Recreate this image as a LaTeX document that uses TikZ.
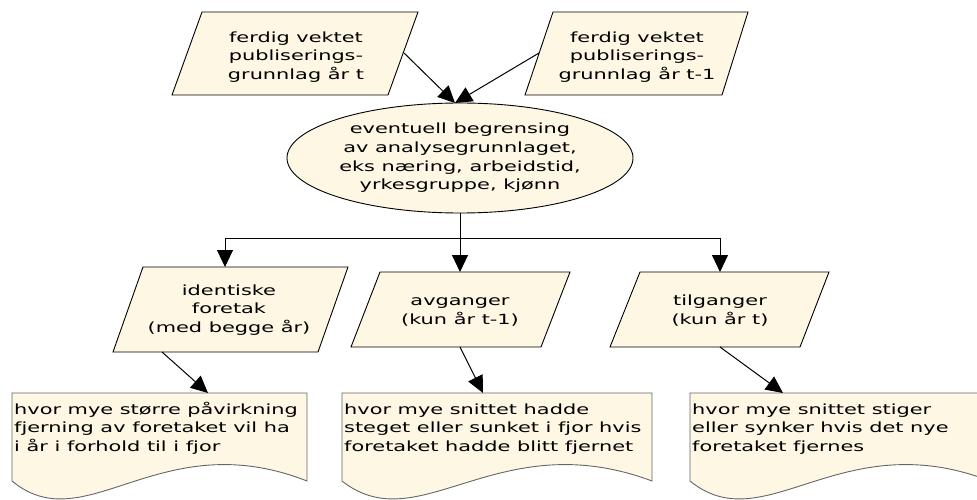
\documentclass[tikz,border=0pt]{standalone}
\usepackage{fontspec}
\setmainfont{DejaVu Sans}[FakeStretch=1.49]
\usetikzlibrary{arrows.meta,shapes.geometric}
\definecolor{paper}{RGB}{253,247,228}
\begin{document}
\begin{tikzpicture}[x=1pt,y=-1pt,
  flowbox/.style={draw=black,line width=0.9pt,fill=paper},
  docbox/.style={draw=black!60,line width=0.9pt,fill=paper},
  lbl/.style={inner sep=0pt,align=center,font=\fontsize{14}{18.7}\selectfont},
  doclbl/.style={inner sep=0pt,align=left,anchor=north west,font=\fontsize{14}{18.7}\selectfont},
  flow/.style={line width=1pt,-{Triangle[length=17pt,width=16pt]}},
  link/.style={line width=1pt}]
\useasboundingbox (0,0) rectangle (977,500);
\clip (0,0) rectangle (977,500);

% input data sets
\draw[flowbox] (202,12) -- (418,12) -- (388,95) -- (172,95) -- cycle;
\node[lbl] (pub1) at (296,57) {\strut ferdig vektet\\publiserings-\\grunnlag år t\strut};
\draw[flowbox] (553,12) -- (748,12) -- (722,95) -- (525,95) -- cycle;
\node[lbl] (pub2) at (637,57) {\strut ferdig vektet\\publiserings-\\grunnlag år t-1\strut};

% optional restriction of the analysis base
\node[flowbox,ellipse,lbl,minimum width=346pt,minimum height=110pt] (filter) at (460,158)
  {\strut eventuell begrensing\\av analysegrunnlaget,\\eks næring, arbeidstid,\\yrkesgruppe, kjønn\strut};

% the three groups of enterprises
\draw[flowbox] (143,267) -- (348,267) -- (318,352) -- (113,352) -- cycle;
\node[lbl] (same) at (229,310) {\strut identiske\\foretak\\(med begge år)\strut};
\draw[flowbox] (380,272) -- (570,272) -- (541,347) -- (351,347) -- cycle;
\node[lbl] (gone) at (460,311.6) {\strut avganger\\(kun år t-1)\strut};
\draw[flowbox] (640,272) -- (829,272) -- (800,347) -- (610,347) -- cycle;
\node[lbl] (new) at (720,311.6) {\strut tilganger\\(kun år t)\strut};

% result documents with wavy lower edge
\draw[docbox] (12,393) -- (307,393) -- (307,481)
  .. controls (159.5,423) and (85.75,542) .. (12,481) -- cycle;
\node[doclbl] (eff1) at (14,401) {\strut hvor mye større påvirkning\\fjerning av foretaket vil ha\\i år i forhold til i fjor\strut};
\draw[docbox] (342,393) -- (652,393) -- (652,481)
  .. controls (497,423) and (419.5,542) .. (342,481) -- cycle;
\node[doclbl] (eff2) at (344,401) {\strut hvor mye snittet hadde\\steget eller sunket i fjor hvis\\foretaket hadde blitt fjernet\strut};
\draw[docbox] (690,393) -- (990,393) -- (990,481)
  .. controls (840,423) and (765,542) .. (690,481) -- cycle;
\node[doclbl] (eff3) at (692,401) {\strut hvor mye snittet stiger\\eller synker hvis det nye\\foretaket fjernes\strut};

% connection points
\coordinate (pub1out) at (403,52);
\coordinate (pub2out) at (539,53);
\coordinate (filterin) at (455,103);
\coordinate (split) at (460,238);
\coordinate (samein) at (225,267);
\coordinate (gonein) at (460,272);
\coordinate (newin) at (720,272);
\coordinate (sameout) at (162,352);
\coordinate (goneout) at (460,347);
\coordinate (newout) at (720,347);
\coordinate (eff1in) at (208,393);
\coordinate (eff2in) at (483,393);
\coordinate (eff3in) at (783,393);

% connectors
\draw[flow] (pub1out) -- (filterin);
\draw[flow] (pub2out) -- (filterin);
\draw[link] (filter.south) -- (split);
\draw[flow] (split) -| (samein);
\draw[flow] (split) -- (gonein);
\draw[flow] (split) -| (newin);
\draw[flow] (sameout) -- (eff1in);
\draw[flow] (goneout) -- (eff2in);
\draw[flow] (newout) -- (eff3in);
\end{tikzpicture}
\end{document}
